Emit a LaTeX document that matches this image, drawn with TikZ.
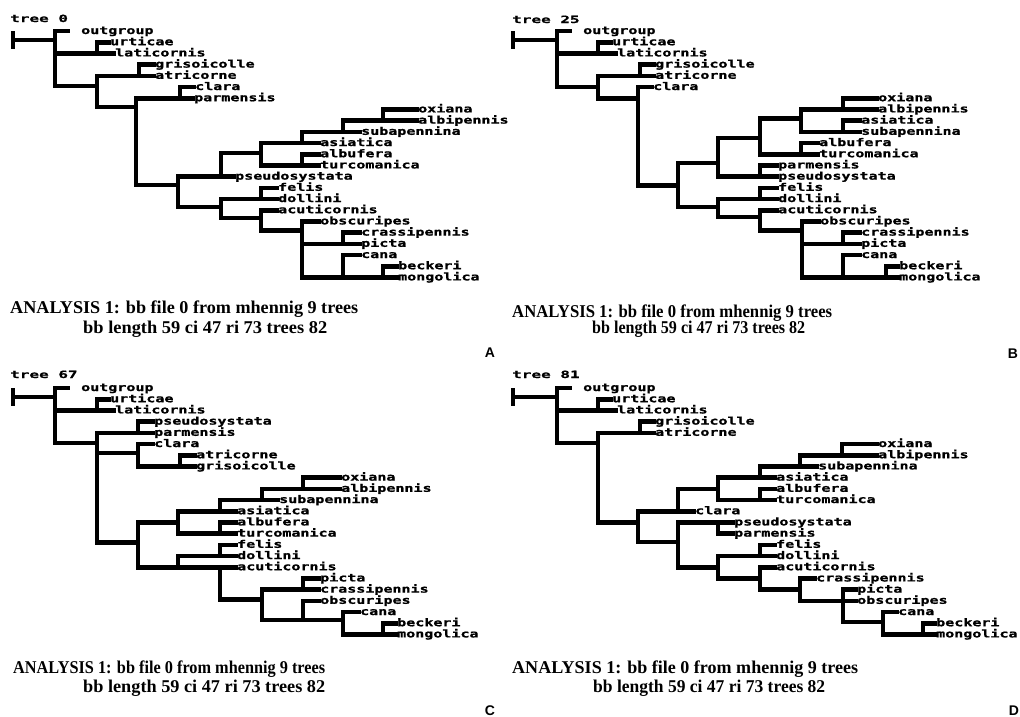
\documentclass[tikz,border=0pt]{standalone}
\usepackage{fontspec}
\usepackage{graphicx}
\setmainfont{Liberation Serif}
\newfontfamily\lblfont{DejaVu Sans Mono}[FakeStretch=1.43,FakeBold=1.2]
\newfontfamily\ttlfont{DejaVu Sans Mono}[FakeStretch=1.6,FakeBold=1.0]
\newfontfamily\letfont{Liberation Sans}
\newcommand\tedge[2]{\draw[branch] (#1) |- (#2);}
\newcommand\tleaf[5]{\node[lbl] (#1) at (#3,#4) {#5};\draw[branch] (#2) |- (#1.west);}
\newcommand\tnode[3]{\coordinate (#1) at (#2,#3);}
\begin{document}
\begin{tikzpicture}[x=1pt,y=-1pt,
  branch/.style={line width=4.6pt, line cap=rect},
  lbl/.style={font=\lblfont\bfseries\fontsize{10.5}{10.5}\selectfont, anchor=west, inner sep=1pt, text height=7pt, text depth=1pt},
  ttl/.style={font=\ttlfont\bfseries\fontsize{10}{10}\selectfont, anchor=base west, inner sep=0pt},
  captxt/.style={font=\bfseries\fontsize{18}{20}\selectfont, anchor=base west, inner sep=0pt},
  panel/.style={font=\letfont\bfseries\fontsize{14}{14}\selectfont, anchor=base, inner sep=0pt}]
\useasboundingbox (0,0) rectangle (1020,716);
\fill[white] (0,0) rectangle (1020,716);

% ================= Tree A =================
\node[ttl] (A-title) at (10,22) {tree 0};
\begin{scope}[shift={(0pt,-31pt)}, y=-11.2pt]
 \tnode{A-t1}{13}{0.18}\tnode{A-t2}{13}{1.43}
 \draw[branch] (A-t1) -- (A-t2);
 \tnode{A-root}{13}{0.8}\tnode{A-R}{55}{0.8}
 \draw[branch] (A-root) -- (A-R);
 \tnode{A-UL}{97}{2}\tnode{A-N1}{97}{4.9}\tnode{A-GA}{139}{4}\tnode{A-N2}{136}{6.8}
 \tnode{A-CP}{180}{6}\tnode{A-N3}{178}{13.75}\tnode{A-N4}{221}{13}\tnode{A-N5}{261}{10.9}
 \tnode{A-N6}{302}{10}\tnode{A-OAS}{343}{9}\tnode{A-OA}{383}{8}\tnode{A-AT}{302}{12}
 \tnode{A-N7}{221}{15.7}\tnode{A-FD}{261}{15}\tnode{A-N8}{261}{16.7}\tnode{A-N9}{302}{17.8}
 \tnode{A-CPi}{343}{19}\tnode{A-N10}{343}{22}\tnode{A-BM}{383}{22}
 \tedge{A-R}{A-UL}\tedge{A-R}{A-N1}\tedge{A-N1}{A-GA}\tedge{A-N1}{A-N2}
 \tedge{A-N2}{A-CP}\tedge{A-N2}{A-N3}\tedge{A-N3}{A-N4}\tedge{A-N3}{A-N7}
 \tedge{A-N4}{A-N5}\tedge{A-N5}{A-N6}\tedge{A-N5}{A-AT}\tedge{A-N6}{A-OAS}
 \tedge{A-OAS}{A-OA}\tedge{A-N7}{A-FD}\tedge{A-N7}{A-N8}\tedge{A-N8}{A-N9}
 \tedge{A-N9}{A-CPi}\tedge{A-N9}{A-N10}\tedge{A-N10}{A-BM}
 \node[lbl] (A-outgroup) at (80,0) {outgroup};
 \draw[branch] (A-R) |- ([xshift=-12pt]A-outgroup.west);
 \tleaf{A-urticae}{A-UL}{109}{1}{urticae}
 \tleaf{A-laticornis}{A-UL}{114}{2}{laticornis}
 \tleaf{A-grisoicolle}{A-GA}{154}{3}{grisoicolle}
 \tleaf{A-atricorne}{A-GA}{154}{4}{atricorne}
 \tleaf{A-clara}{A-CP}{194}{5}{clara}
 \tleaf{A-parmensis}{A-CP}{193}{6}{parmensis}
 \tleaf{A-oxiana}{A-OA}{417}{7}{oxiana}
 \tleaf{A-albipennis}{A-OA}{417}{8}{albipennis}
 \tleaf{A-subapennina}{A-OAS}{360}{9}{subapennina}
 \tleaf{A-asiatica}{A-N6}{319}{10}{asiatica}
 \tleaf{A-albufera}{A-AT}{319}{11}{albufera}
 \tleaf{A-turcomanica}{A-AT}{319}{12}{turcomanica}
 \tleaf{A-pseudosystata}{A-N4}{234}{13}{pseudosystata}
 \tleaf{A-felis}{A-FD}{277}{14}{felis}
 \tleaf{A-dollini}{A-FD}{277}{15}{dollini}
 \tleaf{A-acuticornis}{A-N8}{277}{16}{acuticornis}
 \tleaf{A-obscuripes}{A-N9}{319}{17}{obscuripes}
 \tleaf{A-crassipennis}{A-CPi}{360}{18}{crassipennis}
 \tleaf{A-picta}{A-CPi}{360}{19}{picta}
 \tleaf{A-cana}{A-N10}{360}{20}{cana}
 \tleaf{A-beckeri}{A-BM}{397}{21}{beckeri}
 \tleaf{A-mongolica}{A-BM}{397}{22}{mongolica}
\end{scope}
\node[captxt] (A-cap1) at (10,313) {\resizebox{348pt}{\height}{ANALYSIS 1: bb file 0 from mhennig 9 trees}};
\node[captxt] (A-cap2) at (83,333) {\resizebox{244pt}{\height}{bb length 59 ci 47 ri 73 trees 82}};
\node[panel] (A-letter) at (490,357) {A};

% ================= Tree B =================
\node[ttl] (B-title) at (512,23) {tree 25};
\begin{scope}[shift={(0pt,-31pt)}, y=-11.2pt]
 \tnode{B-t1}{513}{0.18}\tnode{B-t2}{513}{1.43}
 \draw[branch] (B-t1) -- (B-t2);
 \tnode{B-root}{513}{0.8}\tnode{B-R}{557}{0.8}
 \draw[branch] (B-root) -- (B-R);
 \tnode{B-UL}{598}{2}\tnode{B-N1}{598}{5}\tnode{B-GA}{640}{4}\tnode{B-N2}{638}{6}
 \tnode{B-N3}{678}{13.8}\tnode{B-N4}{718}{11.8}\tnode{B-N5}{760}{9.55}\tnode{B-N6}{801}{7.8}
 \tnode{B-OA}{843}{7}\tnode{B-AS}{843}{9}\tnode{B-AT}{801}{11}\tnode{B-PP}{760}{13}
 \tnode{B-N7}{718}{15.7}\tnode{B-FD}{760}{15}\tnode{B-N8}{760}{16.6}\tnode{B-N9}{802}{17.8}
 \tnode{B-CPi}{843}{19}\tnode{B-N10}{843}{22}\tnode{B-BM}{886}{22}
 \tedge{B-R}{B-UL}\tedge{B-R}{B-N1}\tedge{B-N1}{B-GA}\tedge{B-N1}{B-N2}
 \tedge{B-N2}{B-N3}\tedge{B-N3}{B-N4}\tedge{B-N3}{B-N7}\tedge{B-N4}{B-N5}
 \tedge{B-N4}{B-PP}\tedge{B-N5}{B-N6}\tedge{B-N5}{B-AT}\tedge{B-N6}{B-OA}
 \tedge{B-N6}{B-AS}\tedge{B-N7}{B-FD}\tedge{B-N7}{B-N8}\tedge{B-N8}{B-N9}
 \tedge{B-N9}{B-CPi}\tedge{B-N9}{B-N10}\tedge{B-N10}{B-BM}
 \node[lbl] (B-outgroup) at (582,0) {outgroup};
 \draw[branch] (B-R) |- ([xshift=-12pt]B-outgroup.west);
 \tleaf{B-urticae}{B-UL}{611}{1}{urticae}
 \tleaf{B-laticornis}{B-UL}{616}{2}{laticornis}
 \tleaf{B-grisoicolle}{B-GA}{654}{3}{grisoicolle}
 \tleaf{B-atricorne}{B-GA}{654}{4}{atricorne}
 \tleaf{B-clara}{B-N2}{652}{5}{clara}
 \tleaf{B-oxiana}{B-OA}{877}{6}{oxiana}
 \tleaf{B-albipennis}{B-OA}{877}{7}{albipennis}
 \tleaf{B-asiatica}{B-AS}{860}{8}{asiatica}
 \tleaf{B-subapennina}{B-AS}{860}{9}{subapennina}
 \tleaf{B-albufera}{B-AT}{818}{10}{albufera}
 \tleaf{B-turcomanica}{B-AT}{818}{11}{turcomanica}
 \tleaf{B-parmensis}{B-PP}{777}{12}{parmensis}
 \tleaf{B-pseudosystata}{B-PP}{777}{13}{pseudosystata}
 \tleaf{B-felis}{B-FD}{777}{14}{felis}
 \tleaf{B-dollini}{B-FD}{777}{15}{dollini}
 \tleaf{B-acuticornis}{B-N8}{777}{16}{acuticornis}
 \tleaf{B-obscuripes}{B-N9}{819}{17}{obscuripes}
 \tleaf{B-crassipennis}{B-CPi}{860}{18}{crassipennis}
 \tleaf{B-picta}{B-CPi}{860}{19}{picta}
 \tleaf{B-cana}{B-N10}{860}{20}{cana}
 \tleaf{B-beckeri}{B-BM}{898}{21}{beckeri}
 \tleaf{B-mongolica}{B-BM}{898}{22}{mongolica}
\end{scope}
\node[captxt] (B-cap1) at (512,317) {\resizebox{320pt}{\height}{ANALYSIS 1: bb file 0 from mhennig 9 trees}};
\node[captxt] (B-cap2) at (592,333) {\resizebox{213pt}{\height}{bb length 59 ci 47 ri 73 trees 82}};
\node[panel] (B-letter) at (1013,358) {B};

% ================= Tree C =================
\node[ttl] (C-title) at (10,378) {tree 67};
\begin{scope}[shift={(0pt,-388pt)}, y=-11.2pt]
 \tnode{C-t1}{13}{0.18}\tnode{C-t2}{13}{1.43}
 \draw[branch] (C-t1) -- (C-t2);
 \tnode{C-root}{13}{0.8}\tnode{C-R}{55}{0.8}
 \draw[branch] (C-root) -- (C-R);
 \tnode{C-UL}{97}{2}\tnode{C-N1}{97}{4.9}\tnode{C-PP}{138}{4}\tnode{C-CAG}{138}{5.8}
 \tnode{C-AG}{180}{7}\tnode{C-N3}{138}{13.8}\tnode{C-N5}{178}{12}\tnode{C-N6}{220}{11}
 \tnode{C-OAS}{262}{10}\tnode{C-OA}{303}{9}\tnode{C-AT}{220}{13}\tnode{C-N7}{178}{16}
 \tnode{C-FD}{220}{15}\tnode{C-N8}{220}{16}\tnode{C-N9}{262}{18.9}\tnode{C-PC}{303}{18}
 \tnode{C-N10}{303}{20.7}\tnode{C-N11}{343}{20.7}\tnode{C-BM}{383}{22}
 \tedge{C-R}{C-UL}\tedge{C-R}{C-N1}\tedge{C-N1}{C-PP}\tedge{C-N1}{C-CAG}
 \tedge{C-N1}{C-N3}\tedge{C-CAG}{C-AG}\tedge{C-N3}{C-N5}\tedge{C-N3}{C-N7}
 \tedge{C-N5}{C-N6}\tedge{C-N5}{C-AT}\tedge{C-N6}{C-OAS}\tedge{C-OAS}{C-OA}
 \tedge{C-N7}{C-FD}\tedge{C-N7}{C-N8}\tedge{C-N8}{C-N9}\tedge{C-N9}{C-PC}
 \tedge{C-N9}{C-N10}\tedge{C-N10}{C-N11}\tedge{C-N11}{C-BM}
 \node[lbl] (C-outgroup) at (80,0) {outgroup};
 \draw[branch] (C-R) |- ([xshift=-12pt]C-outgroup.west);
 \tleaf{C-urticae}{C-UL}{109}{1}{urticae}
 \tleaf{C-laticornis}{C-UL}{114}{2}{laticornis}
 \tleaf{C-pseudosystata}{C-PP}{153}{3}{pseudosystata}
 \tleaf{C-parmensis}{C-PP}{153}{4}{parmensis}
 \tleaf{C-clara}{C-CAG}{153}{5}{clara}
 \tleaf{C-atricorne}{C-AG}{195}{6}{atricorne}
 \tleaf{C-grisoicolle}{C-AG}{195}{7}{grisoicolle}
 \tleaf{C-oxiana}{C-OA}{340}{8}{oxiana}
 \tleaf{C-albipennis}{C-OA}{340}{9}{albipennis}
 \tleaf{C-subapennina}{C-OAS}{278}{10}{subapennina}
 \tleaf{C-asiatica}{C-N6}{236}{11}{asiatica}
 \tleaf{C-albufera}{C-AT}{236}{12}{albufera}
 \tleaf{C-turcomanica}{C-AT}{236}{13}{turcomanica}
 \tleaf{C-felis}{C-FD}{236}{14}{felis}
 \tleaf{C-dollini}{C-FD}{236}{15}{dollini}
 \tleaf{C-acuticornis}{C-N8}{236}{16}{acuticornis}
 \tleaf{C-picta}{C-PC}{319}{17}{picta}
 \tleaf{C-crassipennis}{C-PC}{319}{18}{crassipennis}
 \tleaf{C-obscuripes}{C-N10}{319}{19}{obscuripes}
 \tleaf{C-cana}{C-N11}{359}{20}{cana}
 \tleaf{C-beckeri}{C-BM}{396}{21}{beckeri}
 \tleaf{C-mongolica}{C-BM}{396}{22}{mongolica}
\end{scope}
\node[captxt] (C-cap1) at (13,673) {\resizebox{312pt}{\height}{ANALYSIS 1: bb file 0 from mhennig 9 trees}};
\node[captxt] (C-cap2) at (83,692) {\resizebox{242pt}{\height}{bb length 59 ci 47 ri 73 trees 82}};
\node[panel] (C-letter) at (490,715) {C};

% ================= Tree D =================
\node[ttl] (D-title) at (512,378) {tree 81};
\begin{scope}[shift={(0pt,-388pt)}, y=-11.2pt]
 \tnode{D-t1}{513}{0.18}\tnode{D-t2}{513}{1.43}
 \draw[branch] (D-t1) -- (D-t2);
 \tnode{D-root}{513}{0.8}\tnode{D-R}{557}{0.8}
 \draw[branch] (D-root) -- (D-R);
 \tnode{D-UL}{598}{2}\tnode{D-N1}{598}{4.9}\tnode{D-GA}{640}{4}\tnode{D-N2}{638}{12}
 \tnode{D-N3}{678}{11}\tnode{D-N4}{718}{9}\tnode{D-N5}{760}{8}\tnode{D-OAS}{800}{7}
 \tnode{D-OA}{842}{6}\tnode{D-AT}{760}{10}\tnode{D-N7}{678}{13.75}\tnode{D-PP}{718}{12}
 \tnode{D-N8}{718}{16}\tnode{D-FD}{760}{15}\tnode{D-N9}{760}{17}\tnode{D-N10}{800}{18}
 \tnode{D-N11}{843}{19}\tnode{D-N12}{883}{20.9}\tnode{D-BM}{923}{22}
 \tedge{D-R}{D-UL}\tedge{D-R}{D-N1}\tedge{D-N1}{D-GA}\tedge{D-N1}{D-N2}
 \tedge{D-N2}{D-N3}\tedge{D-N2}{D-N7}\tedge{D-N3}{D-N4}\tedge{D-N4}{D-N5}
 \tedge{D-N4}{D-AT}\tedge{D-N5}{D-OAS}\tedge{D-OAS}{D-OA}\tedge{D-N7}{D-PP}
 \tedge{D-N7}{D-N8}\tedge{D-N8}{D-FD}\tedge{D-N8}{D-N9}\tedge{D-N9}{D-N10}
 \tedge{D-N10}{D-N11}\tedge{D-N11}{D-N12}\tedge{D-N12}{D-BM}
 \node[lbl] (D-outgroup) at (582,0) {outgroup};
 \draw[branch] (D-R) |- ([xshift=-12pt]D-outgroup.west);
 \tleaf{D-urticae}{D-UL}{611}{1}{urticae}
 \tleaf{D-laticornis}{D-UL}{616}{2}{laticornis}
 \tleaf{D-grisoicolle}{D-GA}{654}{3}{grisoicolle}
 \tleaf{D-atricorne}{D-GA}{654}{4}{atricorne}
 \tleaf{D-oxiana}{D-OA}{877}{5}{oxiana}
 \tleaf{D-albipennis}{D-OA}{877}{6}{albipennis}
 \tleaf{D-subapennina}{D-OAS}{817}{7}{subapennina}
 \tleaf{D-asiatica}{D-N5}{775}{8}{asiatica}
 \tleaf{D-albufera}{D-AT}{775}{9}{albufera}
 \tleaf{D-turcomanica}{D-AT}{775}{10}{turcomanica}
 \tleaf{D-clara}{D-N3}{694}{11}{clara}
 \tleaf{D-pseudosystata}{D-PP}{733}{12}{pseudosystata}
 \tleaf{D-parmensis}{D-PP}{733}{13}{parmensis}
 \tleaf{D-felis}{D-FD}{775}{14}{felis}
 \tleaf{D-dollini}{D-FD}{775}{15}{dollini}
 \tleaf{D-acuticornis}{D-N9}{775}{16}{acuticornis}
 \tleaf{D-crassipennis}{D-N10}{815}{17}{crassipennis}
 \tleaf{D-picta}{D-N11}{856}{18}{picta}
 \tleaf{D-obscuripes}{D-N11}{856}{19}{obscuripes}
 \tleaf{D-cana}{D-N12}{897}{20}{cana}
 \tleaf{D-beckeri}{D-BM}{935}{21}{beckeri}
 \tleaf{D-mongolica}{D-BM}{935}{22}{mongolica}
\end{scope}
\node[captxt] (D-cap1) at (512,673) {\resizebox{346pt}{\height}{ANALYSIS 1: bb file 0 from mhennig 9 trees}};
\node[captxt] (D-cap2) at (593,692) {\resizebox{232pt}{\height}{bb length 59 ci 47 ri 73 trees 82}};
\node[panel] (D-letter) at (1014,715) {D};
\end{tikzpicture}
\end{document}
